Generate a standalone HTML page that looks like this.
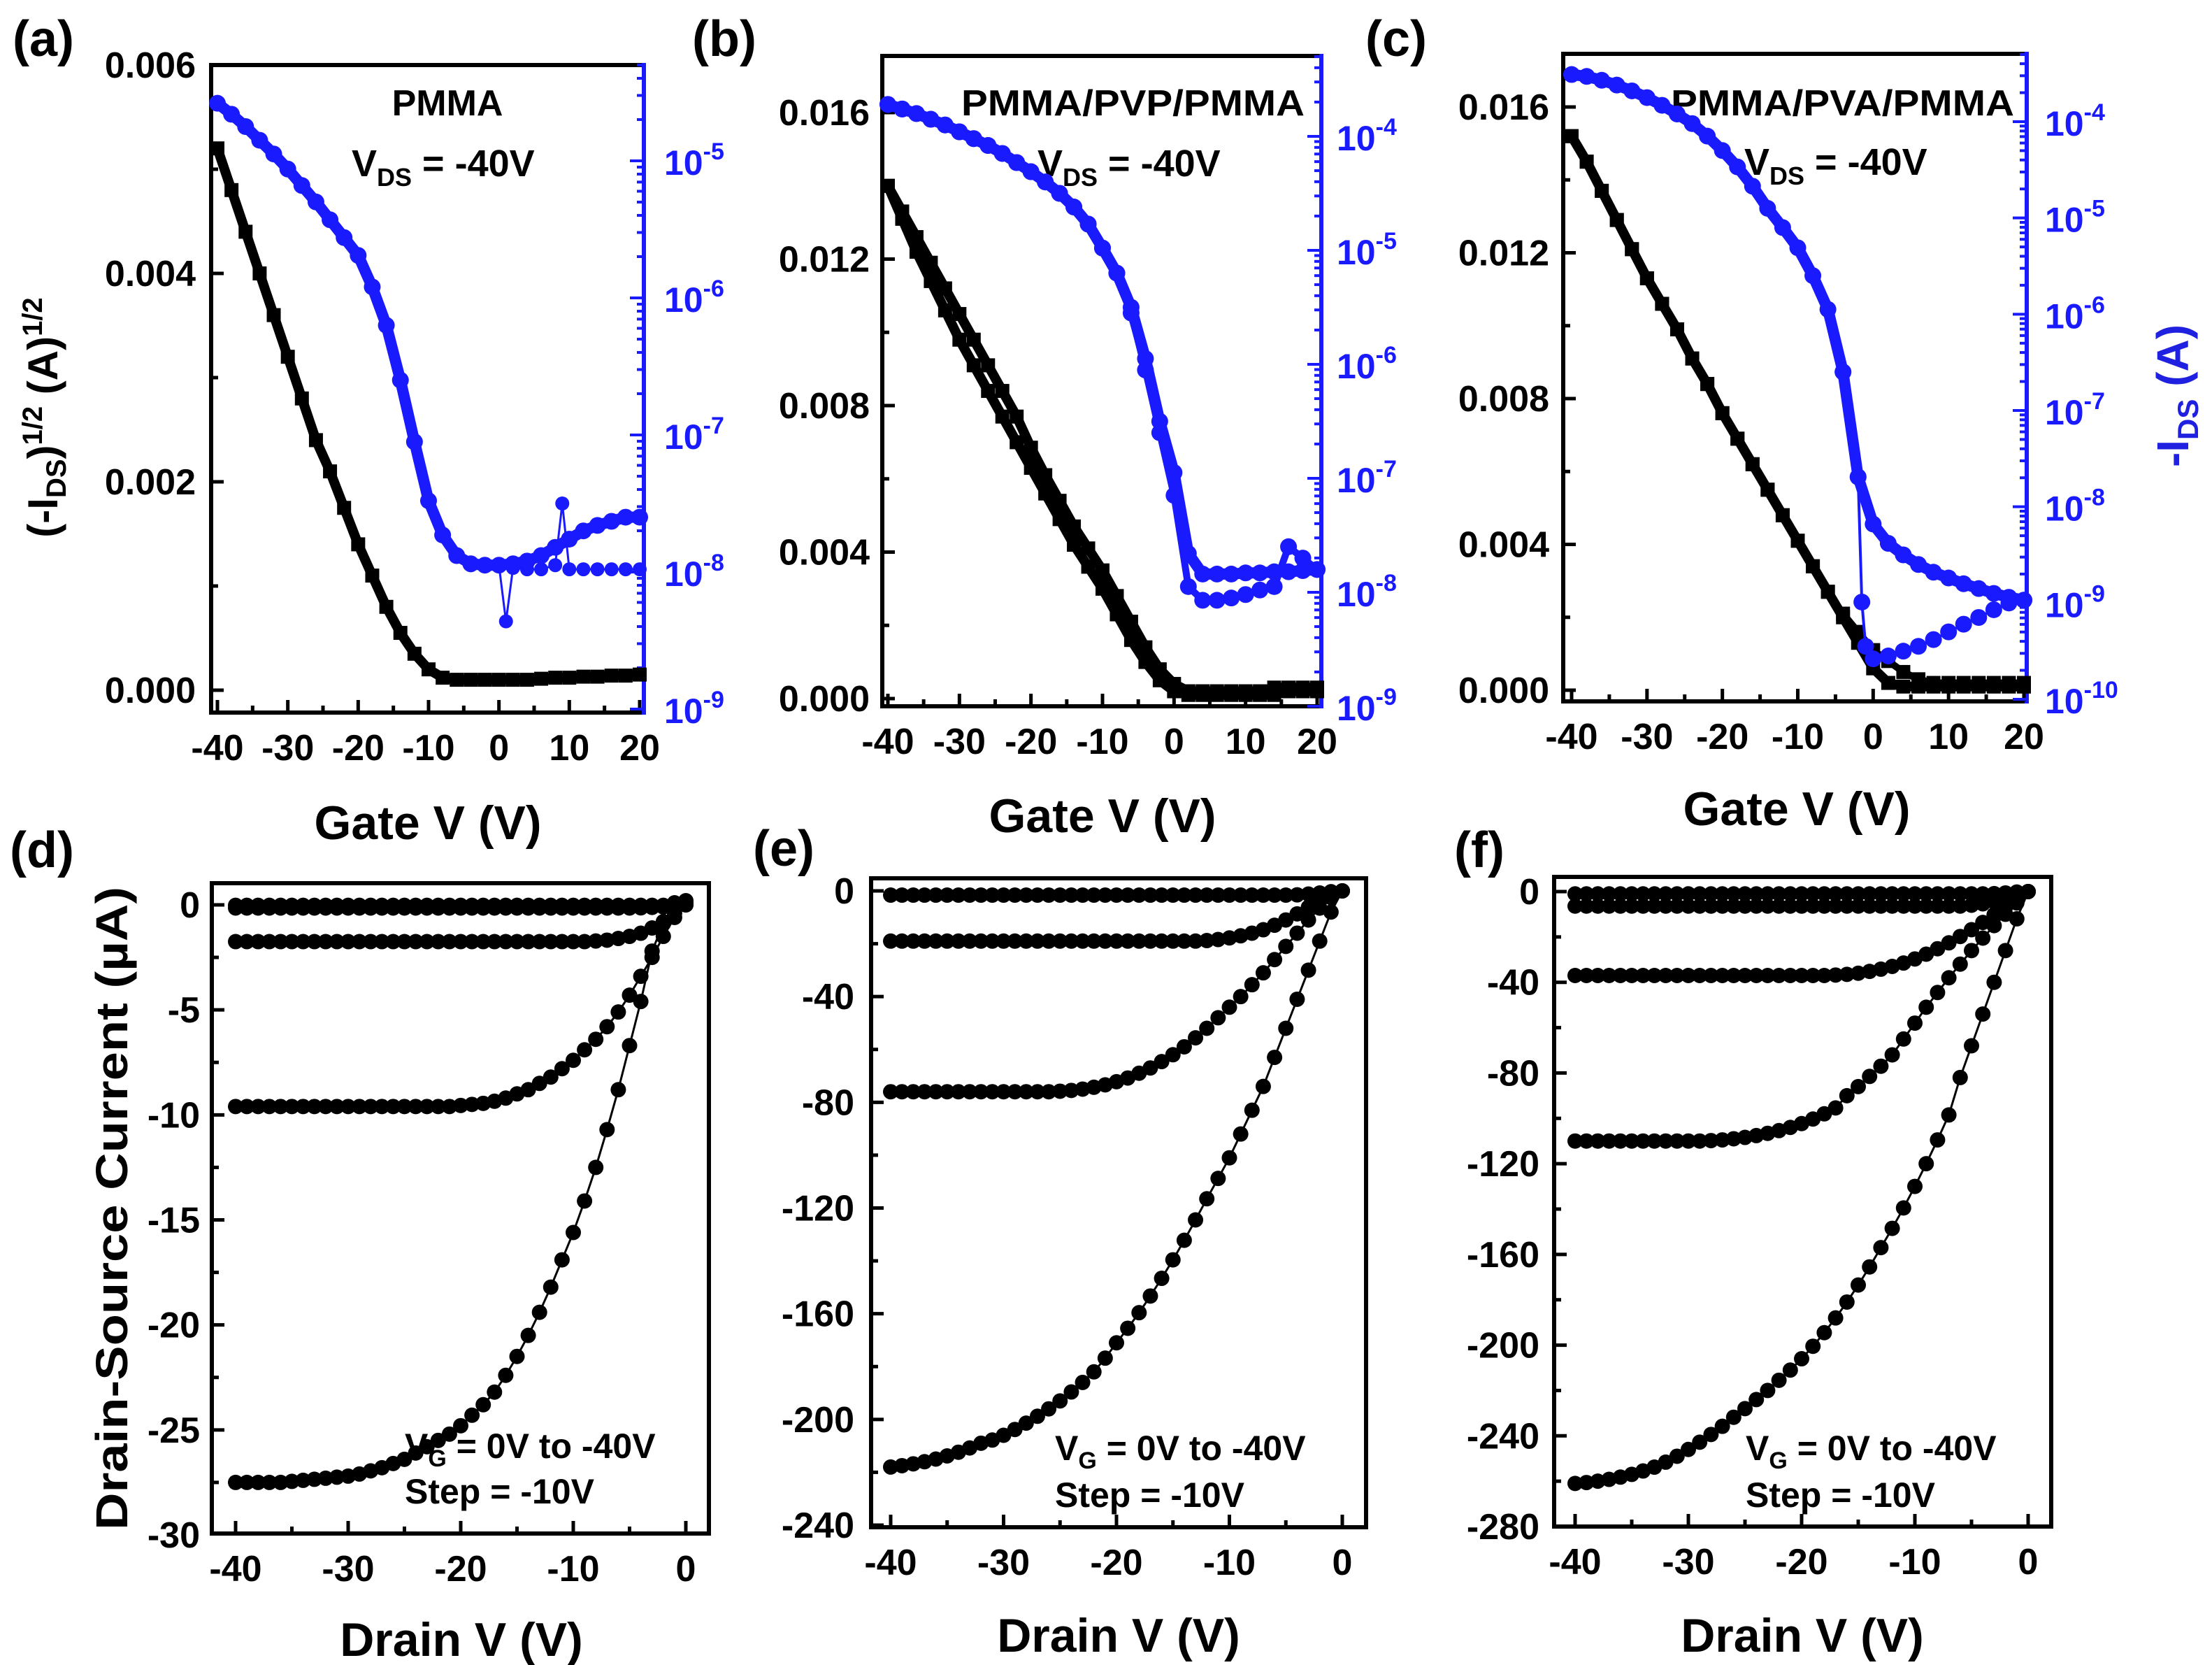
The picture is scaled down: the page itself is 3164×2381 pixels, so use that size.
<!DOCTYPE html>
<html><head><meta charset="utf-8"><style>
html,body{margin:0;padding:0;background:#fff;}
svg{display:block;font-family:"Liberation Sans",sans-serif;font-weight:bold;}
</style></head><body>
<svg id="fig" xmlns="http://www.w3.org/2000/svg" width="3164" height="2381" viewBox="0 0 3164 2381">
<rect x="0" y="0" width="3164" height="2381" fill="#fff"/>
<g id="static" font-weight="bold">
<text x="18" y="80" font-size="72">(a)</text>
<text x="990" y="80" font-size="72">(b)</text>
<text x="1953" y="80" font-size="72">(c)</text>
<text x="14" y="1240" font-size="72">(d)</text>
<text x="1077" y="1238" font-size="72">(e)</text>
<text x="2080" y="1240" font-size="72">(f)</text>
<text x="640" y="165" font-size="52" text-anchor="middle">PMMA</text>
<text x="503" y="252" font-size="54">V<tspan font-size="36" dy="14">DS</tspan><tspan dy="-14"> = -40V</tspan></text>
<text x="1375" y="165" font-size="52" textLength="491" lengthAdjust="spacingAndGlyphs">PMMA/PVP/PMMA</text>
<text x="1484" y="252" font-size="54">V<tspan font-size="36" dy="14">DS</tspan><tspan dy="-14"> = -40V</tspan></text>
<text x="2390" y="165" font-size="52" textLength="491" lengthAdjust="spacingAndGlyphs">PMMA/PVA/PMMA</text>
<text x="2495" y="250" font-size="54">V<tspan font-size="36" dy="14">DS</tspan><tspan dy="-14"> = -40V</tspan></text>
<text x="612" y="1200" font-size="68" text-anchor="middle">Gate V (V)</text>
<text x="1577" y="1190" font-size="68" text-anchor="middle">Gate V (V)</text>
<text x="2570" y="1180" font-size="68" text-anchor="middle">Gate V (V)</text>
<text x="660" y="2368" font-size="68" text-anchor="middle">Drain V (V)</text>
<text x="1600" y="2362" font-size="68" text-anchor="middle">Drain V (V)</text>
<text x="2578" y="2362" font-size="68" text-anchor="middle">Drain V (V)</text>
<text transform="translate(82,597) rotate(-90)" font-size="60" text-anchor="middle">(-I<tspan font-size="40" dy="12">DS</tspan><tspan dy="-12">)</tspan><tspan font-size="40" dy="-22">1/2</tspan><tspan dy="22">  (A)</tspan><tspan font-size="40" dy="-22">1/2</tspan></text>
<text transform="translate(3130,566) rotate(-90)" font-size="64" fill="#2020e0" text-anchor="middle">-I<tspan font-size="42" dy="14">DS</tspan><tspan dy="-14"> (A)</tspan></text>
<text transform="translate(182,1728) rotate(-90)" font-size="64" text-anchor="middle" textLength="920" lengthAdjust="spacingAndGlyphs">Drain-Source Current (µA)</text>
<text x="579" y="2085" font-size="50">V<tspan font-size="34" dy="12">G</tspan><tspan dy="-12"> = 0V to -40V</tspan></text>
<text x="579" y="2150" font-size="50">Step = -10V</text>
<text x="1509" y="2088" font-size="50">V<tspan font-size="34" dy="12">G</tspan><tspan dy="-12"> = 0V to -40V</tspan></text>
<text x="1509" y="2155" font-size="50">Step = -10V</text>
<text x="2497" y="2088" font-size="50">V<tspan font-size="34" dy="12">G</tspan><tspan dy="-12"> = 0V to -40V</tspan></text>
<text x="2497" y="2155" font-size="50">Step = -10V</text>
</g>
</svg>
<script>
// ---------- data ----------
const gateV = [-40,-38,-36,-34,-32,-30,-28,-26,-24,-22,-20,-18,-16,-14,-12,-10,-8,-6,-4,-2,0,2,4,6,8,10,12,14,16,18,20];
const aSqrt = [0.0052,0.0048,0.0044,0.0040,0.0036,0.0032,0.0028,0.0024,0.0021,0.00175,0.0014,0.0011,0.0008,0.00055,0.00035,0.0002,0.00012,0.0001,0.0001,0.0001,0.0001,0.0001,0.0001,0.00011,0.00012,0.00012,0.00013,0.00013,0.00014,0.00014,0.00015];
const aLogFwd = [-4.58,-4.66,-4.75,-4.85,-4.95,-5.06,-5.18,-5.3,-5.43,-5.56,-5.69,-5.92,-6.2,-6.6,-7.05,-7.48,-7.73,-7.88,-7.94,-7.95,-7.95,-7.94,-7.92,-7.88,-7.82,-7.76,-7.7,-7.66,-7.63,-7.6,-7.6];
const aRevV = [-4,-2,0,1,2,4,6,8,9,10,12,14,16,18,20];
const aLogRev = [-7.95,-7.95,-7.95,-8.36,-7.97,-7.98,-7.98,-7.95,-7.5,-7.98,-7.98,-7.98,-7.98,-7.98,-7.98];
const bSqrtFwd = [0.0140,0.0133,0.0126,0.0119,0.0112,0.0105,0.0098,0.0091,0.0084,0.0077,0.00685,0.0061,0.0054,0.0047,0.0041,0.0035,0.0028,0.0021,0.0014,0.0008,0.0004,0.0002,0.0002,0.0002,0.0002,0.0002,0.0002,0.0003,0.0003,0.0003,0.0003];
const bSqrtRev = [0.0140,0.0131,0.0122,0.0114,0.0106,0.0098,0.0091,0.0084,0.0077,0.0070,0.0063,0.0056,0.0049,0.0042,0.0036,0.0030,0.0023,0.0016,0.0010,0.0005,0.0002,0.0001,0.0001,0.0001,0.0001,0.0001,0.0001,0.0001,0.0002,0.0002,0.0002];
const bLogFwd = [-3.72,-3.76,-3.8,-3.85,-3.9,-3.96,-4.02,-4.08,-4.15,-4.23,-4.31,-4.4,-4.5,-4.62,-4.77,-4.98,-5.2,-5.5,-5.95,-6.5,-6.95,-7.66,-7.84,-7.84,-7.84,-7.83,-7.83,-7.82,-7.82,-7.81,-7.8];
const bLogRev = [-3.72,-3.76,-3.8,-3.85,-3.9,-3.96,-4.02,-4.08,-4.15,-4.23,-4.31,-4.4,-4.5,-4.62,-4.77,-4.98,-5.2,-5.55,-6.05,-6.6,-7.15,-7.95,-8.07,-8.07,-8.05,-8.02,-7.98,-7.95,-7.6,-7.7,-7.8];
const cSqrtFwd = [0.0152,0.0145,0.0137,0.0129,0.0121,0.0113,0.0106,0.0099,0.0091,0.0084,0.0076,0.0069,0.0062,0.0055,0.0048,0.0041,0.0034,0.0027,0.0020,0.0013,0.0006,0.0002,0.0001,0.0001,0.0001,0.0001,0.0001,0.0001,0.0001,0.0001,0.0001];
const cSqrtRev = [0.0152,0.0145,0.0137,0.0129,0.0121,0.0113,0.0106,0.0099,0.0091,0.0084,0.0076,0.0069,0.0062,0.0055,0.0048,0.0041,0.0034,0.0027,0.0021,0.0016,0.0011,0.0008,0.0005,0.0003,0.0002,0.0002,0.0002,0.0002,0.0002,0.0002,0.0002];
const cLogFwd = [-3.51,-3.53,-3.57,-3.62,-3.68,-3.75,-3.83,-3.92,-4.02,-4.15,-4.3,-4.47,-4.67,-4.9,-5.1,-5.31,-5.6,-5.95,-6.6,-7.69,-8.18,-8.38,-8.5,-8.6,-8.68,-8.74,-8.8,-8.85,-8.9,-8.94,-8.97];
const cRevV = [-4,-2,-1.5,-1,0,2,4,6,8,10,12,14,16,18,20];
const cLogRev = [-6.6,-7.69,-8.99,-9.45,-9.58,-9.55,-9.5,-9.45,-9.38,-9.3,-9.22,-9.15,-9.07,-9.0,-8.97];

const drainV = [-40,-39,-38,-37,-36,-35,-34,-33,-32,-31,-30,-29,-28,-27,-26,-25,-24,-23,-22,-21,-20,-19,-18,-17,-16,-15,-14,-13,-12,-11,-10,-9,-8,-7,-6,-5,-4,-3,-2,-1,0];
const dI0 = [-0.02,-0.02,-0.02,-0.02,-0.02,-0.02,-0.02,-0.02,-0.02,-0.02,-0.02,-0.02,-0.02,-0.02,-0.02,-0.02,-0.02,-0.02,-0.02,-0.02,-0.02,-0.02,-0.02,-0.02,-0.02,-0.02,-0.02,-0.02,-0.02,-0.02,-0.02,-0.02,-0.02,-0.02,-0.02,-0.02,-0.02,-0.02,-0.02,0.05,0.1];
const dI1 = [-0.15,-0.15,-0.15,-0.15,-0.15,-0.15,-0.15,-0.15,-0.15,-0.15,-0.15,-0.15,-0.15,-0.15,-0.15,-0.15,-0.15,-0.15,-0.15,-0.15,-0.15,-0.15,-0.15,-0.15,-0.15,-0.15,-0.15,-0.15,-0.15,-0.15,-0.15,-0.15,-0.15,-0.15,-0.15,-0.15,-0.14,-0.12,-0.1,0,0.1];
const dI2 = [-1.75,-1.75,-1.75,-1.75,-1.75,-1.75,-1.75,-1.75,-1.75,-1.75,-1.75,-1.75,-1.75,-1.75,-1.75,-1.75,-1.75,-1.75,-1.75,-1.75,-1.75,-1.75,-1.75,-1.75,-1.75,-1.75,-1.75,-1.75,-1.75,-1.75,-1.75,-1.75,-1.72,-1.68,-1.6,-1.5,-1.35,-1.1,-0.8,-0.4,0.0];
const dI3 = [-9.6,-9.6,-9.6,-9.6,-9.6,-9.6,-9.6,-9.6,-9.6,-9.6,-9.6,-9.6,-9.6,-9.6,-9.6,-9.6,-9.6,-9.6,-9.6,-9.6,-9.55,-9.5,-9.45,-9.35,-9.2,-9.0,-8.8,-8.5,-8.2,-7.8,-7.4,-6.9,-6.4,-5.8,-5.1,-4.3,-3.4,-2.5,-1.5,-0.6,0.0];
const dI4 = [-27.5,-27.5,-27.5,-27.5,-27.5,-27.45,-27.4,-27.35,-27.3,-27.25,-27.2,-27.1,-26.95,-26.8,-26.6,-26.4,-26.1,-25.8,-25.5,-25.2,-24.8,-24.3,-23.8,-23.2,-22.4,-21.5,-20.5,-19.4,-18.2,-16.9,-15.6,-14.1,-12.5,-10.7,-8.8,-6.7,-4.6,-2.2,-0.9,0.1,0.2];
const eI0 = [-1.6,-1.6,-1.6,-1.6,-1.6,-1.6,-1.6,-1.6,-1.6,-1.6,-1.6,-1.6,-1.6,-1.6,-1.6,-1.6,-1.6,-1.6,-1.6,-1.6,-1.6,-1.6,-1.6,-1.6,-1.6,-1.6,-1.6,-1.6,-1.6,-1.6,-1.6,-1.6,-1.6,-1.6,-1.6,-1.6,-1.5,-1.2,-0.8,-0.3,0];
const eI1 = [-19,-19,-19,-19,-19,-19,-19,-19,-19,-19,-19,-19,-19,-19,-19,-19,-19,-19,-19,-19,-19,-19,-19,-19,-19,-19,-19,-19,-18.8,-18.4,-17.8,-17,-16,-14.7,-13,-11,-8.7,-6.2,-3.8,-1.6,0];
const eI2 = [-76,-76,-76,-76,-76,-76,-76,-76,-76,-76,-76,-76,-76,-76,-76,-75.8,-75.5,-75,-74.3,-73.4,-72.2,-70.8,-69,-67,-64.6,-62,-59,-55.6,-52,-48,-44,-40,-35.5,-31,-26,-21,-16,-11,-6.5,-2.5,0];
const eI3 = [-218,-217.5,-216.8,-216,-215,-213.8,-212.4,-210.8,-209,-207.8,-206,-203.8,-201.4,-198.8,-196,-193,-189.6,-186,-182,-176.8,-171,-165.5,-159.6,-153.3,-146.6,-139.6,-132.2,-124.5,-116.5,-108.8,-101,-92,-83,-74,-63,-52,-41,-30,-19,-8,0];
const fI0 = [-1,-1,-1,-1,-1,-1,-1,-1,-1,-1,-1,-1,-1,-1,-1,-1,-1,-1,-1,-1,-1,-1,-1,-1,-1,-1,-1,-1,-1,-1,-1,-1,-1,-1,-1,-1,-1,-0.9,-0.6,-0.2,0];
const fI1 = [-6.4,-6.4,-6.4,-6.4,-6.4,-6.4,-6.4,-6.4,-6.4,-6.4,-6.4,-6.4,-6.4,-6.4,-6.4,-6.4,-6.4,-6.4,-6.4,-6.4,-6.4,-6.4,-6.4,-6.4,-6.4,-6.4,-6.4,-6.4,-6.4,-6.4,-6.4,-6.4,-6.4,-6.4,-6.4,-6,-5.4,-4.5,-3.2,-1.7,0];
const fI2 = [-37,-37,-37,-37,-37,-37,-37,-37,-37,-37,-37,-37,-37,-37,-37,-37,-37,-37,-37,-37,-37,-37,-37,-36.8,-36.5,-36,-35.2,-34.2,-33,-31.5,-29.7,-27.6,-25.2,-22.6,-19.8,-16.8,-13.6,-10.2,-6.8,-3.4,0];
const fI3 = [-110,-110,-110,-110,-110,-110,-110,-110,-110,-110,-110,-110,-109.8,-109.5,-109,-108.4,-107.6,-106.6,-105.4,-104,-102.3,-100.3,-98,-95.4,-90,-86,-81.5,-77,-72,-65,-58,-51,-44.5,-38,-32,-26,-20.5,-15,-10,-5,0];
const fI4 = [-261,-260.6,-260,-259.2,-258.2,-257,-255.5,-253.8,-251.6,-249,-246,-242.8,-239.4,-235.8,-231.8,-228,-224,-220,-215.5,-211,-206,-200.5,-194.5,-188,-181,-173.5,-165.5,-157,-148.5,-139.5,-130,-120,-109.5,-98.5,-82,-68,-54,-40,-26,-12,0];

const gateTicks = [-40,-30,-20,-10,0,10,20];
const gateTickLabels = ['-40','-30','-20','-10','0','10','20'];
const drainTicks = [-40,-30,-20,-10,0];
const drainTickLabels = ['-40','-30','-20','-10','0'];
const aYTicks = [0,0.002,0.004,0.006];
const aYTickLabels = ['0.000','0.002','0.004','0.006'];
const bcYTicks = [0,0.004,0.008,0.012,0.016];
const bcYTickLabels = ['0.000','0.004','0.008','0.012','0.016'];
const aLogTicks = [-9,-8,-7,-6,-5];
const bLogTicks = [-9,-8,-7,-6,-5,-4];
const cLogTicks = [-10,-9,-8,-7,-6,-5,-4];
const dYTicks = [0,-5,-10,-15,-20,-25,-30];
const dYTickLabels = ['0','-5','-10','-15','-20','-25','-30'];
const eYTicks = [0,-40,-80,-120,-160,-200,-240];
const eYTickLabels = ['0','-40','-80','-120','-160','-200','-240'];
const fYTicks = [0,-40,-80,-120,-160,-200,-240,-280];
const fYTickLabels = ['0','-40','-80','-120','-160','-200','-240','-280'];

// ---------- drawing ----------
const NS = 'http://www.w3.org/2000/svg';
const svg = document.getElementById('fig');
const BLUE = '#1a1aff';
function mk(tag, attrs, parent) {
  const el = document.createElementNS(NS, tag);
  for (const k in attrs) el.setAttribute(k, attrs[k]);
  (parent || svg).appendChild(el);
  return el;
}
function lin(v, v0, p0, v1, p1) { return p0 + (v - v0) * (p1 - p0) / (v1 - v0); }

function panel(cfg) {
  const g = mk('g', {});
  
  
  cfg.g = g;
  cfg.X = v => lin(v, cfg.xv[0], cfg.xp[0], cfg.xv[1], cfg.xp[1]);
  cfg.Y = v => lin(v, cfg.yv[0], cfg.yp[0], cfg.yv[1], cfg.yp[1]);
  if (cfg.lv) cfg.LY = v => lin(v, cfg.lv[0], cfg.lp[0], cfg.lv[1], cfg.lp[1]);
  return g;
}
function frame(cfg) {
  const r = mk('rect', {x: cfg.L, y: cfg.T, width: cfg.R - cfg.L, height: cfg.B - cfg.T, fill: 'none', stroke: '#000', 'stroke-width': 6}, cfg.g);
  
  
  if (cfg.lv) {
    const ln = mk('line', {x1: cfg.R, y1: cfg.T - 3, x2: cfg.R, y2: cfg.B + 3, stroke: BLUE, 'stroke-width': 6}, cfg.g);
    
    
  }
}
function xAxis(cfg, ticks, labels, minorStep) {
  for (let v = cfg.xv[0]; v <= cfg.xv[1] + 0.001; v += minorStep) {
    const x = cfg.X(v);
    if (x < cfg.L || x > cfg.R) continue;
    const major = ticks.indexOf(v) >= 0;
    mk('line', {x1: x, y1: cfg.B, x2: x, y2: cfg.B - (major ? 18 : 10), stroke: '#000', 'stroke-width': 5}, cfg.g);
  }
  ticks.forEach((v, i) => {
    const t = mk('text', {x: cfg.X(v), y: cfg.B + 68, 'font-size': 52, 'text-anchor': 'middle'}, cfg.g);
    
    
    t.textContent = labels[i];
  });
}
function yAxis(cfg, ticks, labels, minorStep, lx) {
  for (let k = -200; k <= 200; k++) {
    const v = k * minorStep;
    const y = cfg.Y(v);
    if (y < cfg.T + 4 || y > cfg.B) continue;
    const major = ticks.some(t => Math.abs(t - v) < minorStep / 10);
    mk('line', {x1: cfg.L, y1: y, x2: cfg.L + (major ? 18 : 10), y2: y, stroke: '#000', 'stroke-width': 5}, cfg.g);
  }
  ticks.forEach((v, i) => {
    const t = mk('text', {x: lx, y: cfg.Y(v) + 18, 'font-size': 52, 'text-anchor': 'end'}, cfg.g);
    
    
    t.textContent = labels[i];
  });
}
function logAxis(cfg, ticks, lx) {
  const lo = Math.min(...ticks) - 1, hi = Math.max(...ticks) + 1;
  for (let d = lo; d <= hi; d++) {
    for (let k = 1; k <= 9; k++) {
      const y = cfg.LY(d + Math.log10(k));
      if (y < cfg.T || y > cfg.B) continue;
      mk('line', {x1: cfg.R, y1: y, x2: cfg.R - (k === 1 ? 20 : 10), y2: y, stroke: BLUE, 'stroke-width': 4}, cfg.g);
    }
  }
  ticks.forEach(v => {
    const t = mk('text', {x: lx, y: cfg.LY(v) + 20, 'font-size': 50, fill: BLUE}, cfg.g);
    
    
    t.textContent = '10';
    const s = mk('tspan', {'font-size': 34, dy: -22}, t);
    s.textContent = String(v);
  });
}
function series(cfg, xs, ys, opts) {
  const g = mk('g', {}, cfg.g);
  
  
  const Yf = opts.log ? cfg.LY : cfg.Y;
  const pts = xs.map((x, i) => [cfg.X(x), Yf(ys[i])]);
  mk('polyline', {points: pts.map(p => p.join(',')).join(' '), fill: 'none', stroke: opts.color, 'stroke-width': opts.band || 3, 'stroke-linejoin': 'round'}, g);
  pts.forEach(p => {
    let m;
    if (opts.square) {
      m = mk('rect', {x: p[0] - opts.size / 2, y: p[1] - opts.size / 2, width: opts.size, height: opts.size, fill: opts.color}, g);
    } else {
      m = mk('circle', {cx: p[0], cy: p[1], r: opts.size / 2, fill: opts.color}, g);
    }
    
    
  });
}

// Panel a
const A = {id: 'a', L: 302, R: 921, T: 93, B: 1019, xv: [-40, 20], xp: [311, 915], yv: [0, 0.006], yp: [987, 93], lv: [-9, -5], lp: [1014, 230]};
panel(A); frame(A);
xAxis(A, gateTicks, gateTickLabels, 5);
yAxis(A, aYTicks, aYTickLabels, 0.001, 280);
logAxis(A, aLogTicks, 950);
series(A, gateV, aSqrt, {name: 'sqrt-ids-series-a', color: '#000', square: true, size: 20, band: 14});
series(A, aRevV, aLogRev, {name: 'log-ids-reverse-a', color: BLUE, log: true, size: 20});
series(A, gateV, aLogFwd, {name: 'log-ids-forward-a', color: BLUE, log: true, size: 24, band: 16});

// Panel b
const Bp = {id: 'b', L: 1262, R: 1890, T: 80, B: 1010, xv: [-40, 20], xp: [1270, 1884], yv: [0, 0.016], yp: [999, 161], lv: [-9, -4], lp: [1010, 195]};
panel(Bp); frame(Bp);
xAxis(Bp, gateTicks, gateTickLabels, 5);
yAxis(Bp, bcYTicks, bcYTickLabels, 0.002, 1244);
logAxis(Bp, bLogTicks, 1912);
series(Bp, gateV, bSqrtFwd, {name: 'sqrt-ids-forward-b', color: '#000', square: true, size: 20, band: 14});
series(Bp, gateV, bSqrtRev, {name: 'sqrt-ids-reverse-b', color: '#000', square: true, size: 20, band: 14});
series(Bp, gateV, bLogFwd, {name: 'log-ids-forward-b', color: BLUE, log: true, size: 24, band: 16});
series(Bp, gateV, bLogRev, {name: 'log-ids-reverse-b', color: BLUE, log: true, size: 24, band: 10});

// Panel c
const C = {id: 'c', L: 2236, R: 2899, T: 77, B: 1003, xv: [-40, 20], xp: [2248, 2895], yv: [0, 0.016], yp: [987, 153], lv: [-10, -4], lp: [1000, 174]};
panel(C); frame(C);
xAxis(C, gateTicks, gateTickLabels, 5);
yAxis(C, bcYTicks, bcYTickLabels, 0.002, 2216);
logAxis(C, cLogTicks, 2925);
series(C, gateV, cSqrtFwd, {name: 'sqrt-ids-forward-c', color: '#000', square: true, size: 20, band: 14});
series(C, gateV, cSqrtRev, {name: 'sqrt-ids-reverse-c', color: '#000', square: true, size: 20, band: 10});
series(C, gateV, cLogFwd, {name: 'log-ids-forward-c', color: BLUE, log: true, size: 24, band: 16});
series(C, cRevV, cLogRev, {name: 'log-ids-reverse-c', color: BLUE, log: true, size: 24, band: 4});

// Panel d
const D = {id: 'd', L: 303, R: 1014, T: 1263, B: 2193, xv: [-40, 0], xp: [337, 981], yv: [0, -30], yp: [1294, 2195]};
panel(D); frame(D);
xAxis(D, drainTicks, drainTickLabels, 5);
yAxis(D, dYTicks, dYTickLabels, 2.5, 286);
[dI0, dI1, dI2, dI3, dI4].forEach((arr, i) => series(D, drainV, arr, {name: 'output-curve-d-vg' + (-10 * i), color: '#000', size: 22}));

// Panel e
const E = {id: 'e', L: 1246, R: 1954, T: 1256, B: 2184, xv: [-40, 0], xp: [1274, 1920], yv: [0, -240], yp: [1274, 2181]};
panel(E); frame(E);
xAxis(E, drainTicks, drainTickLabels, 5);
yAxis(E, eYTicks, eYTickLabels, 20, 1222);
[eI0, eI1, eI2, eI3].forEach((arr, i) => series(E, drainV, arr, {name: 'output-curve-e-' + i, color: '#000', size: 22}));

// Panel f
const F = {id: 'f', L: 2223, R: 2934, T: 1254, B: 2183, xv: [-40, 0], xp: [2253, 2901], yv: [0, -280], yp: [1275, 2183]};
panel(F); frame(F);
xAxis(F, drainTicks, drainTickLabels, 5);
yAxis(F, fYTicks, fYTickLabels, 20, 2202);
[fI0, fI1, fI2, fI3, fI4].forEach((arr, i) => series(F, drainV, arr, {name: 'output-curve-f-' + i, color: '#000', size: 22}));
</script>
</body></html>
